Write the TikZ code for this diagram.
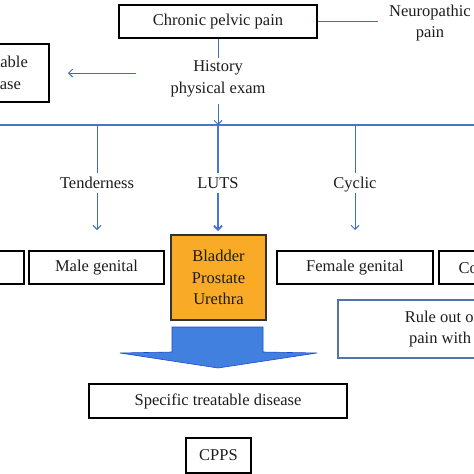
\documentclass[tikz,border=0pt]{standalone}
\usepackage{fontspec}
\setmainfont{Liberation Serif}
\usetikzlibrary{arrows.meta}
\definecolor{lineblue}{RGB}{62,108,194}
\definecolor{barblue}{RGB}{68,118,210}
\definecolor{boxorange}{RGB}{249,170,38}
\definecolor{arrowblue}{RGB}{66,128,224}
\definecolor{arrowedge}{RGB}{28,72,205}
\definecolor{ruleedge}{RGB}{84,116,168}
\definecolor{txt}{RGB}{28,28,28}
\newcommand{\dfont}{\fontsize{16.5}{21.5}\selectfont}
\begin{document}
\begin{tikzpicture}[x=1pt,y=-1pt,
  every node/.style={font=\dfont, text=txt},
  blackbox/.style={draw=black, line width=1.3pt, inner sep=0pt, align=center},
  lbl/.style={inner sep=3pt, align=center},
  branchlbl/.style={text height=11pt, text depth=0pt, inner xsep=2pt, inner ysep=4pt},
  thinline/.style={draw=lineblue, line width=1pt},
  thickline/.style={draw=barblue, line width=1.9pt},
  barbtip/.style={-{Straight Barb[length=4pt,width=8pt]}}
]
\useasboundingbox (0,0) rectangle (474,474);
\clip (0,0) rectangle (474,474);

% top
\node[blackbox, minimum width=198pt, minimum height=33pt] (cpp) at (218,21.5) {Chronic pelvic pain};
\node[lbl] (neuro) at (430,23) {Neuropathic\\pain};
\node[lbl] (hist) at (218,79) {History\\physical exam};
\node[blackbox, minimum width=104pt, minimum height=58pt] (treat) at (-3,73) {Treatable\\disease};

\coordinate (neuroL) at (378,21.5);
\coordinate (lstart) at (136,73);
\coordinate (lend) at (68,73);
\draw[thinline] (cpp.east) -- (neuroL);
\draw[thinline] (cpp.south) -- (hist.north);
\draw[thinline, barbtip] (lstart) -- (lend);

% bar
\coordinate (barL) at (-10,125);
\coordinate (barR) at (484,125);
\draw[thickline] (barL) -- (barR);
\draw[thinline, barbtip] ([yshift=-4pt]hist.south) -- (hist.south |- barL);

% branch labels
\node[branchlbl] (tend) at (97,183) {Tenderness};
\node[branchlbl] (luts) at (218,183) {LUTS};
\node[branchlbl] (cyc) at (355,183) {Cyclic};
\node[branchlbl] (bowel) at (505,183) {Bowel};

\coordinate (tendE) at (97,230);
\coordinate (lutsE) at (218,231);
\coordinate (cycE) at (355,230);
\coordinate (bowelE) at (505,230);

\draw[thinline] (tend |- barL) -- (tend.north);
\draw[thinline, barbtip] (tend.south) -- (tendE);
\draw[thickline] (luts |- barL) -- (luts.north);
\draw[thickline, barbtip] (luts.south) -- (lutsE);
\draw[thinline] (cyc |- barL) -- (cyc.north);
\draw[thinline, barbtip] (cyc.south) -- (cycE);
\draw[thinline] (bowel |- barL) -- (bowel.north);
\draw[thinline, barbtip] (bowel.south) -- (bowelE);

% second row
\node[blackbox, minimum width=120pt, minimum height=33pt] (musc) at (-36,267.5) {};
\node[blackbox, minimum width=135pt, minimum height=33pt] (male) at (96.5,267.5) {Male genital};
\node[blackbox, fill=boxorange, draw=black!80, minimum width=95pt, minimum height=85pt] (bpu) at (218.5,277.5) {Bladder\\Prostate\\Urethra};
\node[blackbox, minimum width=156pt, minimum height=33pt] (female) at (355,267.5) {Female genital};
\node[blackbox, minimum width=108pt, minimum height=33pt] (colo) at (493,267.5) {Colorectal};
\node[draw=ruleedge, line width=1.2pt, inner sep=0pt, align=center, minimum width=293pt, minimum height=58pt] (rule) at (484.5,329) {Rule out other causes of\\pain with specific tests};

% big arrow
\filldraw[fill=arrowblue, draw=arrowedge, line width=0.6pt] (172,327) -- (263,327) -- (263,352) -- (317,353) -- (218,368) -- (120,353) -- (172,352) -- cycle;

% bottom
\node[blackbox, minimum width=258pt, minimum height=34pt] (spec) at (218,401) {Specific treatable disease};
\node[blackbox, minimum width=65pt, minimum height=35pt] (cpps) at (218.5,455.5) {CPPS};
\end{tikzpicture}
\end{document}
